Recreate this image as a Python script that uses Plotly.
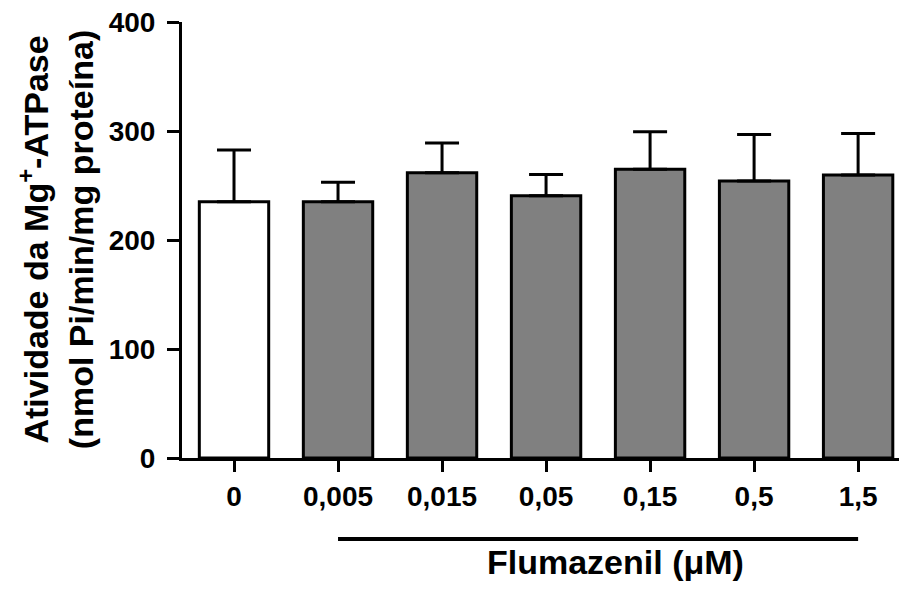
import plotly.graph_objects as go

categories = ["0", "0,005", "0,015", "0,05", "0,15", "0,5", "1,5"]
means = [235.2, 235.2, 261.8, 240.5, 265.0, 254.2, 259.7]
sem = [47.4, 17.8, 27.2, 19.5, 34.4, 42.5, 37.9]
bar_colors = ["#ffffff", "#808080", "#808080", "#808080", "#808080", "#808080", "#808080"]
y_ticks = [0, 100, 200, 300, 400]

FONT = "Liberation Sans, Arial, sans-serif"

xs = list(range(len(categories)))

fig = go.Figure()
fig.add_trace(go.Bar(
    x=xs, y=means,
    width=0.667,
    marker=dict(color=bar_colors, line=dict(color="black", width=3)),
    error_y=dict(type="data", symmetric=False, array=sem, arrayminus=[0] * len(sem),
                 color="black", thickness=3, width=17),
    showlegend=False,
))

fig.update_layout(
    width=899, height=587,
    margin=dict(l=174, r=0, t=14, b=137),
    plot_bgcolor="white", paper_bgcolor="white",
    font=dict(family=FONT, color="black"),
    xaxis=dict(
        tickmode="array", tickvals=xs, ticktext=["<b>%s</b>" % c for c in categories],
        range=[-0.5, 6.47],
        showline=True, linecolor="black", linewidth=3,
        ticks="outside", ticklen=11, tickwidth=3, tickcolor="black",
        showgrid=False, zeroline=False,
        tickfont=dict(family=FONT, size=28, color="black"),
    ),
    yaxis=dict(
        range=[0, 400],
        tickmode="array", tickvals=y_ticks, ticktext=["<b>%d</b>" % v for v in y_ticks],
        showline=True, linecolor="black", linewidth=3,
        ticks="outside", ticklen=12, tickwidth=3, tickcolor="black",
        ticklabelstandoff=6, ticklabeloverflow="allow",
        showgrid=False, zeroline=False,
        tickfont=dict(family=FONT, size=28, color="black"),
    ),
)

fig.add_shape(type="line", xref="x", yref="paper", x0=1, x1=6,
              y0=-0.186, y1=-0.186, line=dict(color="black", width=4))

fig.add_annotation(text="<b>Flumazenil (μM)</b>", xref="x", yref="paper",
                   x=3.67, y=-0.2385, xanchor="center", yanchor="middle",
                   showarrow=False, font=dict(family=FONT, size=34, color="black"))

fig.add_annotation(text="<b>Atividade da Mg<sup>+</sup>-ATPase</b><br><b>(nmol Pi/min/mg proteína)</b>",
                   xref="paper", yref="paper", x=-0.175, y=0.5,
                   xanchor="center", yanchor="middle", textangle=-90,
                   showarrow=False, font=dict(family=FONT, size=34, color="black"))

fig.write_html("out.html")
